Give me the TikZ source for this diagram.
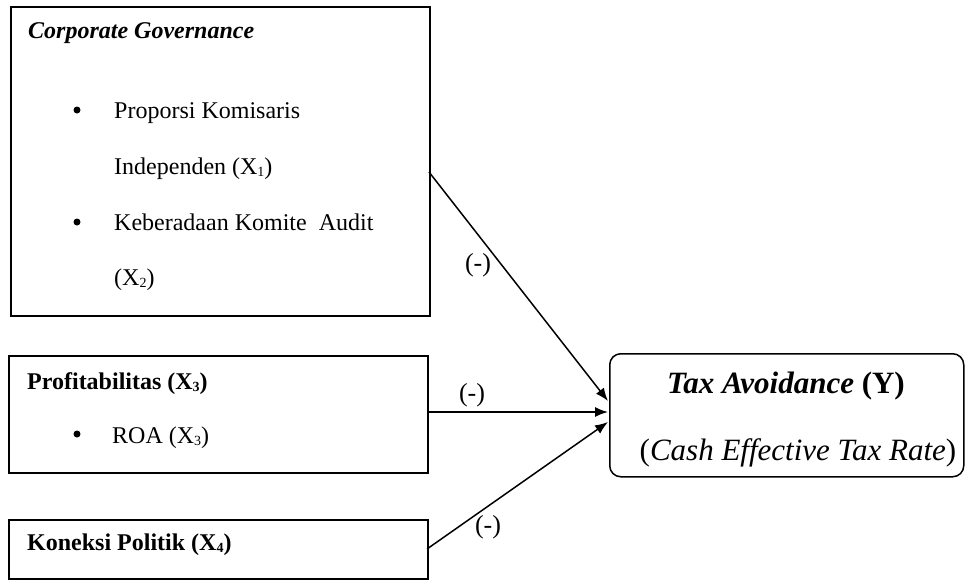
\documentclass[tikz,border=0pt]{standalone}
\usepackage{fontspec}
\setmainfont{Liberation Serif}
\usetikzlibrary{arrows.meta}
\newcommand\subx[1]{\raisebox{-0.12em}{\fontsize{14}{14}\selectfont #1}}
\begin{document}
\begin{tikzpicture}[x=1pt,y=-1pt,
  box/.style={draw, line width=1.5pt, anchor=north west, inner sep=0pt},
  txt/.style={anchor=base west, inner sep=0pt, font=\fontsize{24}{28}\selectfont},
  ylbl/.style={inner sep=0pt, anchor=base, font=\fontsize{31}{36}\selectfont},
  lbl/.style={inner sep=0pt, font=\fontsize{26}{30}\selectfont},
  bul/.style={circle, fill=black, inner sep=0pt, minimum size=7pt},
  conn/.style={line width=1.5pt, -{Latex[length=13pt,width=10pt]}}]
\useasboundingbox (0,0) rectangle (966,579);
% boxes
\node[box, minimum width=419pt, minimum height=309pt] (cg) at (10,6) {};
\node[box, minimum width=419pt, minimum height=117pt] (pr) at (8,355) {};
\node[box, minimum width=419pt, minimum height=59pt] (kp) at (8,519) {};
\node[box, rounded corners=11pt, minimum width=354pt, minimum height=123pt] (ta) at (609,353) {};
% box 1 text
\node[txt] (t1) at (28,38) {\textbf{\textit{Corporate Governance}}};
\node[bul] (b1) at (77,110) {};
\node[txt] (t2) at (114,118) {Proporsi Komisaris};
\node[txt] (t3) at (114,174) {Independen (X\subx{1})};
\node[bul] (b2) at (77,222) {};
\node[txt] (t4) at (114,230) {Keberadaan Komite\ \ Audit};
\node[txt] (t5) at (114,285) {(X\subx{2})};
% box 2 text
\node[txt] (t6) at (27,389) {\textbf{Profitabilitas (X\subx{3})}};
\node[bul] (b3) at (77,434) {};
\node[txt] (t7) at (112,443) {ROA (X\subx{3})};
% box 3 text
\node[txt] (t8) at (27,550) {\textbf{Koneksi Politik (X\subx{4})}};
% Y box text
\node[ylbl] (y1) at (786,393) {\textbf{\textit{Tax Avoidance} (Y)}};
\node[ylbl] (y2) at (798,460) {(\textit{Cash Effective Tax Rate})};
% connectors
\coordinate (s1) at (429,172);
\coordinate (s2) at (427,412);
\coordinate (s3) at (427,549);
\coordinate (e1) at (608,401);
\coordinate (e2) at (608,412);
\coordinate (e3) at (608,422);
\draw[conn] (s1) -- (e1);
\draw[conn] (s2) -- (e2);
\draw[conn] (s3) -- (e3);
% signs
\node[lbl] (m1) at (478,265) {(-)};
\node[lbl] (m2) at (472,395) {(-)};
\node[lbl] (m3) at (488,527) {(-)};
\end{tikzpicture}
\end{document}
